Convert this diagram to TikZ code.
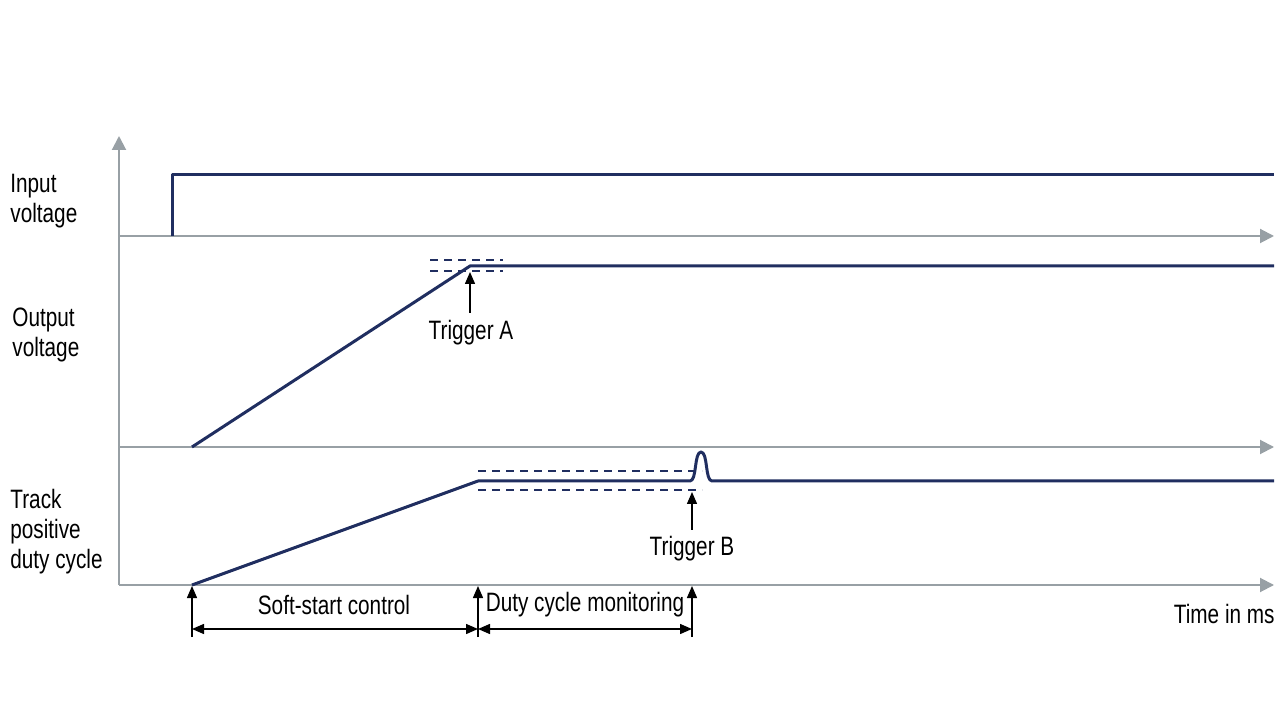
\documentclass[tikz,border=0pt]{standalone}
\usepackage{fontspec}
\setmainfont{Liberation Sans}[FakeStretch=0.78]
\usetikzlibrary{arrows.meta,positioning}
\definecolor{signalblue}{RGB}{32,46,96}
\definecolor{axisgray}{RGB}{152,160,165}

\begin{document}
\begin{tikzpicture}[x=0.5pt,y=-0.5pt,
    axis/.style={axisgray,line width=1pt,-{Triangle[length=7pt,width=7pt]}},
    signal/.style={signalblue,line width=1.5pt,line join=round},
    band/.style={signalblue,line width=0.6pt,dash pattern=on 4pt off 3pt},
    marker/.style={black,line width=0.7pt,-{Triangle[length=6pt,width=5pt]}},
    span/.style={black,line width=0.7pt,{Triangle[length=6pt,width=5pt]}-{Triangle[length=6pt,width=5pt]}},
    lbl/.style={font=\fontsize{13.3}{15}\selectfont,inner sep=0pt,align=left}]
    \useasboundingbox (0,0) rectangle (1280,721);
    % Achsen
    \coordinate (origin) at (119,585);
    \coordinate (ytip) at (119,136);
    \draw[axis] (origin) -- (ytip);
    \foreach \y/\n in {236/in,447/out,585/duty}{
      \coordinate (\n0) at (119,\y);
      \coordinate (\n1) at (1274,\y);
      \draw[axis] (\n0) -- (\n1);
    }
    % Signalnamen
    \node[lbl,anchor=west] (lin) at (10,201) {Input\\voltage};
    \node[lbl,anchor=west] (lout) at (12,335) {Output\\voltage};
    \node[lbl,anchor=west] (lduty) at (10,532) {Track\\positive\\duty cycle};
    % Eingangsspannung
    \coordinate (inup) at (172,236);
    \coordinate (inend) at (1274,175);
    \draw[signal] (inup) |- (inend);
    % Ausgangsspannung mit Schwelle
    \coordinate (outstart) at (192,447);
    \coordinate (trigA) at (470,266);
    \coordinate (outend) at (1274,266);
    \draw[signal] (outstart) -- (trigA) -- (outend);
    \foreach \y in {260,271}{
      \draw[band] (430,\y) -- (503,\y);
    }
    \node[lbl] (labA) at (471,333) {Trigger A};
    \coordinate (baseA) at (470,313);
    \coordinate (tipA) at (470,272);
    \draw[marker] (baseA) -- (tipA);
    % Tastverhaeltnis
    \coordinate (dutystart) at (192,585);
    \coordinate (dutyflat) at (478,481);
    \coordinate (bumpin) at (690,481);
    \coordinate (bumpout) at (712,481);
    \coordinate (dutyend) at (1274,481);
    \draw[signal] (dutystart) -- (dutyflat) -- (bumpin)
      .. controls (697,481) and (694,452) .. (701,452)
      .. controls (708,452) and (705,481) .. (bumpout) -- (dutyend);
    \foreach \y in {471,490}{
      \draw[band] (478,\y) -- (702,\y);
    }
    \node[lbl] (labB) at (692,549) {Trigger B};
    \coordinate (baseB) at (692,530);
    \coordinate (tipB) at (692,492);
    \draw[marker] (baseB) -- (tipB);
    % Phasen
    \foreach \x/\n in {192/pa,478/pb,692/pc}{
      \coordinate (\n) at (\x,637);
      \coordinate (\n top) at (\x,586);
      \draw[marker] (\n) -- (\n top);
    }
    \draw[span] (pa |- 0,629) -- (pb |- 0,629);
    \draw[span] (pb |- 0,629) -- (pc |- 0,629);
    \node[lbl] (soft) at (334,605) {Soft-start control};
    \node[lbl] (mon) at (585,605) {Duty cycle monitoring};
    \node[lbl,anchor=east] (time) at (1275,614) {Time in ms};
\end{tikzpicture}
\end{document}
